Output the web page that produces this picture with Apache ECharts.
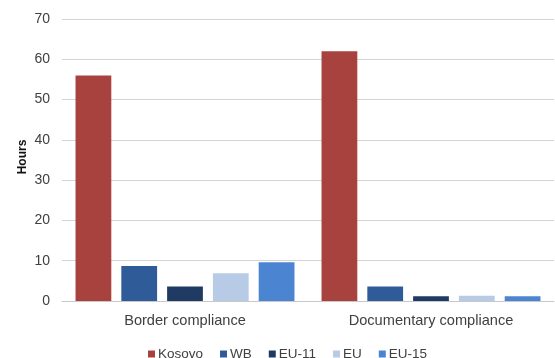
<!DOCTYPE html>
<html>
<head>
<meta charset="utf-8">
<script src="https://cdn.jsdelivr.net/npm/echarts@6/dist/echarts.min.js"></script>
<style>
  html, body { margin: 0; padding: 0; background: #ffffff; }
  #chart { width: 555px; height: 358px; }
</style>
</head>
<body>
<div id="chart"></div>
<script>
// Time to comply with border and documentary requirements, in hours
const categories = ['Border compliance', 'Documentary compliance'];
const seriesNames = ['Kosovo', 'WB', 'EU-11', 'EU', 'EU-15'];
const kosovo = [56, 62];
const wb = [8.7, 3.6];
const eu11 = [3.6, 1.2];
const eu = [6.9, 1.3];
const eu15 = [9.6, 1.2];
const seriesValues = [kosovo, wb, eu11, eu, eu15];
const colors = ['#A8423F', '#2F5C98', '#1F3B63', '#B7CBE6', '#4B85D1'];

const chart = echarts.init(document.getElementById('chart'), null, { renderer: 'canvas' });

const font = "'Liberation Sans', Arial, sans-serif";

chart.setOption({
  animation: false,
  textStyle: { fontFamily: font },
  grid: { left: 62, right: 1, top: 19, bottom: 57, containLabel: false },
  legend: {
    data: seriesNames,
    left: 143,
    top: 342,
    itemWidth: 7,
    itemHeight: 7,
    itemGap: 17,
    icon: 'rect',
    textStyle: { fontFamily: font, fontSize: 13.5, color: '#404040', padding: [0, 0, 0, -2] }
  },
  xAxis: {
    type: 'category',
    data: categories,
    axisLine: { show: true, lineStyle: { color: '#c8c8c8', width: 1 } },
    axisTick: { show: false },
    axisLabel: { fontFamily: font, fontSize: 14.6, color: '#404040', margin: 12 }
  },
  yAxis: {
    type: 'value',
    min: 0,
    max: 70,
    interval: 10,
    name: 'Hours',
    nameLocation: 'middle',
    nameRotate: 90,
    nameGap: 33,
    nameMoveOverlap: false,
    nameTextStyle: { fontFamily: font, fontSize: 12, fontWeight: 'bold', color: '#111111', padding: [0, 0, 0, 6] },
    axisLine: { show: false },
    axisTick: { show: false },
    axisLabel: { fontFamily: font, fontSize: 14, color: '#404040', margin: 12 },
    splitLine: { lineStyle: { color: '#d4d4d4', width: 1 } }
  },
  series: seriesNames.map((name, i) => ({
    name: name,
    type: 'bar',
    data: seriesValues[i],
    barGap: '28%',
    barCategoryGap: '11%',
    itemStyle: { color: colors[i] }
  }))
});
</script>
</body>
</html>
